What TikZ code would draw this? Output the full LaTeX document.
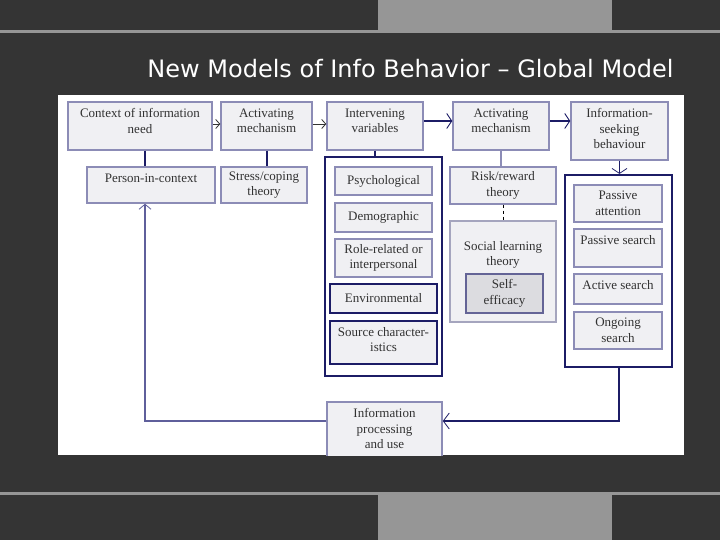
\documentclass[tikz,border=0pt]{standalone}
\usepackage{fontspec}
\setmainfont{Liberation Serif}
\newfontfamily\titlefont{DejaVu Sans}
\usetikzlibrary{arrows.meta}
\definecolor{bgdark}{RGB}{52,52,52}
\definecolor{bggray}{RGB}{150,150,150}
\definecolor{boxfill}{RGB}{240,240,243}
\definecolor{boxline}{RGB}{140,140,182}
\definecolor{navy}{RGB}{28,28,102}
\definecolor{txtc}{RGB}{50,50,50}
\definecolor{selffill}{RGB}{220,220,224}
\definecolor{selfline}{RGB}{100,100,150}
\definecolor{socline}{RGB}{165,165,190}
\definecolor{backline}{RGB}{95,95,155}
\newcommand\fs{\fontsize{13}{15.5}\selectfont}
\tikzset{
  box/.style={draw=boxline, fill=boxfill, line width=1.5pt, inner sep=0pt,
    font=\fs, text=txtc, align=center},
  navybox/.style={box, draw=navy},
  grp/.style={draw=navy, line width=2.2pt, fill=white, inner sep=0pt},
  toptext/.style={label={[anchor=north, yshift=-7pt, font=\fs, text=txtc,
    align=center, inner sep=0pt]north:{#1}}},
  toptextlow/.style={label={[anchor=north, yshift=-21pt, font=\fs, text=txtc,
    align=center, inner sep=0pt]north:{#1}}},
  sz/.style 2 args={minimum width=#1pt, minimum height=#2pt},
  smallarrow/.style={draw=txtc, line width=0.8pt, -{Straight Barb[length=4pt,width=9pt]}},
  thickarrow/.style={draw=navy, line width=2pt, -{Straight Barb[length=5pt,width=15pt,line width=0.9pt]}},
  thinarrow/.style={draw=navy, line width=1pt, -{Straight Barb[length=5pt,width=15pt,line width=0.8pt]}},
  link/.style={draw=navy, line width=2pt},
  softlink/.style={draw=boxline, line width=1.5pt},
  titletext/.style={font=\titlefont\fontsize{24}{28}\selectfont, text=white, anchor=base, inner sep=0pt}
}
\begin{document}
\begin{tikzpicture}[x=1pt,y=-1pt]
\useasboundingbox (0,0) rectangle (720,540);
\fill[bgdark] (0,0) rectangle (720,540);
\fill[bggray] (378,0) rectangle (612,30);
\fill[bggray] (0,30) rectangle (720,33);
\fill[bggray] (0,492) rectangle (720,495);
\fill[bggray] (378,495) rectangle (612,540);
\node[titletext] (title) at (410.5,78) {New Models of Info Behavior – Global Model};
\fill[white] (58,95) rectangle (684,455);
\begin{scope}
\clip (58,95) rectangle (684,455);
% helper coordinates
\coordinate (rowa) at (0,124);
\coordinate (rowb) at (0,121);
\coordinate (rowc) at (0,421);
\coordinate (lx) at (145,0);
% top row
\node[box, sz={144}{48}, toptext={Context of information\\need}] (ctx) at (140,126) {};
\node[box, sz={91}{48}, toptext={Activating\\mechanism}] (act1) at (266.5,126) {};
\node[box, sz={96}{48}, toptext={Intervening\\variables}] (interv) at (375,126) {};
\node[box, sz={96}{48}, toptext={Activating\\mechanism}] (act2) at (501,126) {};
\node[box, sz={97}{58}, toptext={Information-\\seeking\\behaviour}] (seek) at (619.5,131) {};
% second row
\node[box, sz={128}{36}, toptext={Person-in-context}] (pic) at (151,185) {};
\node[box, sz={86}{36}] (stress) at (264,185) {Stress/coping\\theory};
% intervening variables group
\node[grp, sz={117}{219}] (lgrp) at (383.5,266.5) {};
\node[box, sz={97}{28}] (psych) at (383.5,181) {Psychological};
\node[box, sz={97}{29}] (demo) at (383.5,217.5) {Demographic};
\node[box, sz={97}{38}] (role) at (383.5,258) {Role-related or\\interpersonal};
\node[navybox, sz={107}{29}] (env) at (383.5,298.5) {Environmental};
\node[navybox, sz={107}{43}, toptext={Source character-\\istics}] (src) at (383.5,342.5) {};
% activating mechanism 2 column
\node[box, sz={106}{37}] (risk) at (503,185.5) {Risk/reward\\theory};
\node[box, draw=socline, sz={106}{101}, toptextlow={Social learning\\theory}] (social) at (503,271.5) {};
\node[box, fill=selffill, draw=selfline, sz={77}{39}] (self) at (504.5,293.5) {Self-\\efficacy};
% information seeking group
\node[grp, sz={107}{192}] (rgrp) at (618.5,271) {};
\node[box, sz={88}{37}] (pa) at (618,203.5) {Passive\\attention};
\node[box, sz={88}{38}, toptext={Passive search}] (ps) at (618,248) {};
\node[box, sz={88}{30}, toptext={Active search}] (as) at (618,289) {};
\node[box, sz={88}{37}] (os) at (618,330.5) {Ongoing\\search};
% information processing
\node[box, sz={115}{68}, toptext={Information\\processing\\and use}] (proc) at (384.5,436) {};
% connectors
\draw[smallarrow] (ctx.east |- rowa) -- (act1.west |- rowa);
\draw[smallarrow] (act1.east |- rowa) -- (interv.west |- rowa);
\draw[thickarrow] (interv.east |- rowb) -- (act2.west |- rowb);
\draw[thickarrow] (act2.east |- rowb) -- (seek.west |- rowb);
\draw[link] (ctx.south -| lx) -- (pic.north -| lx);
\draw[link] (act1.south) -- (act1.south |- stress.north);
\draw[link] (interv.south) -- (interv.south |- lgrp.north);
\draw[softlink] (act2.south) -- (act2.south |- risk.north);
\draw[black, line width=0.7pt, dashed] (risk.south) -- (risk.south |- social.north);
\draw[thinarrow] (seek.south) -- (seek.south |- rgrp.north);
\draw[link, -{Straight Barb[length=6pt,width=16pt,line width=0.8pt]}] (rgrp.south) |- (proc.east |- rowc);
\draw[draw=backline, line width=1.5pt, -{Straight Barb[length=5pt,width=12pt,line width=0.8pt]}] (proc.west |- rowc) -| (pic.south -| lx);
\end{scope}
\end{tikzpicture}
\end{document}
